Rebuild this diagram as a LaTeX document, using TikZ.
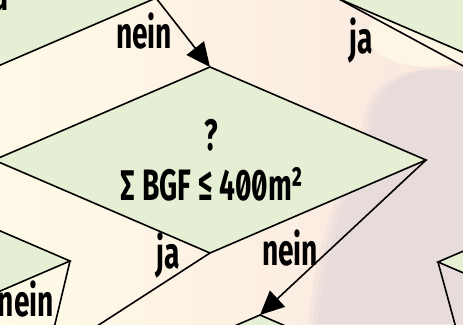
\documentclass[tikz,border=0pt]{standalone}
\usepackage{fontspec}
\newfontfamily\lblfont{Fira Sans}[FakeStretch=0.64, RawFeature=+zero]
\usetikzlibrary{shapes.geometric, arrows.meta}
\definecolor{dgreen}{HTML}{E5EFD3}
\definecolor{bgcream}{HTML}{FFFBE8}
\definecolor{bgpink}{HTML}{FCE8DD}
\definecolor{bgpink2}{HTML}{F9E6DE}
\definecolor{glow}{HTML}{FFF9E6}
\definecolor{silh}{HTML}{E4D9DB}
\begin{document}
\begin{tikzpicture}[x=1pt,y=-1pt,
  dia/.style={shape=diamond, draw=black, line width=1.6pt, fill=dgreen,
    minimum width=432pt, minimum height=186pt, inner sep=0pt, outer sep=0pt, aspect=2.32},
  conn/.style={draw=black, line width=1.6pt},
  arr/.style={conn, -{Triangle[length=24pt,width=22pt]}},
  txt/.style={font=\lblfont\bfseries\fontsize{44}{46}\selectfont, inner sep=0pt, text=black}]
\useasboundingbox (0,0) rectangle (463,324);
% background
\shade[left color=bgcream, middle color=bgpink, right color=bgpink2] (0,0) rectangle (463,324);
\fill[glow, opacity=0.85] (428,35) ellipse [x radius=60pt, y radius=32pt];
\foreach \dx/\op in {-8/0.3, -3/0.35, 2/0.45} {
\fill[silh, opacity=\op, xshift=\dx pt] (463,72) .. controls (420,62) and (378,80) .. (372,115)
  .. controls (368,150) and (355,170) .. (343,200)
  .. controls (330,235) and (320,280) .. (316,324) -- (480,324) -- (480,72) -- cycle;
}
% diamonds
\node[dia] (tl) at (-60,-2) {};
\node[dia] (tr) at (553,-2) {};
\node[dia] (c)  at (210,160) {};
\node[dia] (ll) at (-146,261) {};
\node[dia] (lr) at (654,262) {};
\node[dia] (b)  at (260,408) {};
% free ends
\coordinate (jaend) at (60,350);
\coordinate (neinend) at (50,345);
\coordinate (lrend) at (462,350);
% connectors
\draw[arr] (tl.east) -- (c.north);
\draw[conn] (tr.west) -- (lr.north);
\draw[conn] (c.south) -- (jaend);
\draw[conn] (ll.east) -- (neinend);
\draw[arr] (c.east) -- (b.north);
\draw[conn] (lr.west) -- (lrend);
% labels
\node[txt, anchor=base east] (tu) at (9,10) {u};
\node[txt, anchor=base] (n1) at (144,48) {nein};
\node[txt, anchor=base] (j1) at (361,53) {ja};
\node[txt, anchor=base] (q) at (211,150) {?};
\node[txt, anchor=base] (s) at (212,200) {∑ BGF ≤ 400m²};
\node[txt, anchor=base] (j2) at (168,268) {ja};
\node[txt, anchor=base] (n2) at (290,265) {nein};
\node[txt, anchor=base east] (n3) at (54,316) {nein};
\end{tikzpicture}
\end{document}
